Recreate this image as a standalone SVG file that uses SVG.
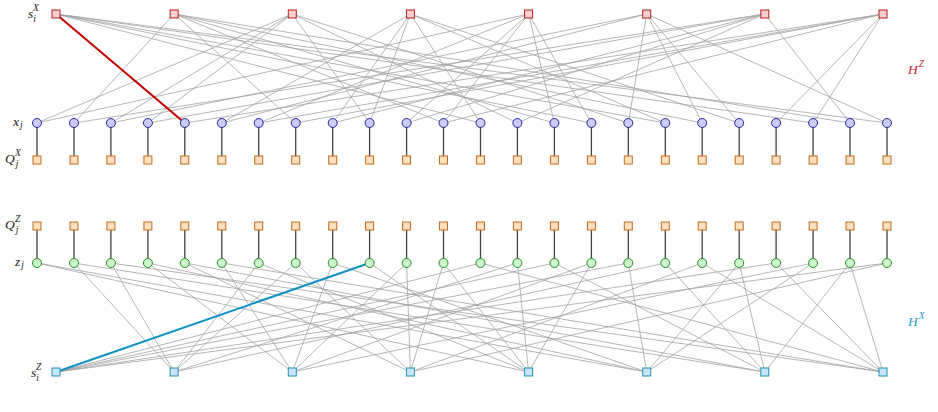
<svg xmlns="http://www.w3.org/2000/svg" width="938" height="412" viewBox="0 0 938 412">
<style>
.e{stroke:#a3a3a3;stroke-width:0.8;fill:none}
.v{stroke:#444;stroke-width:1.3}
.cz{fill:#f9d0d0;stroke:#b81c1c;stroke-width:1}
.cx{fill:#c6e6f5;stroke:#2790b5;stroke-width:1}
.q{fill:#fde0c2;stroke:#c46a1a;stroke-width:1}
.xn{fill:#ccccf8;stroke:#2626a0;stroke-width:1}
.zn{fill:#ccf8cc;stroke:#2a8a2a;stroke-width:1}
.lab{font-family:"Liberation Serif",serif;font-style:italic;font-size:13.5px;fill:#222}
.sm{font-size:9.5px}
</style>
<rect width="938" height="412" fill="#fff"/>
<g id="connectors">
<g id="hz-edges">
<line class="e" x1="56" y1="14" x2="480.5" y2="123"/><line class="e" x1="56" y1="14" x2="591.4" y2="123"/><line class="e" x1="56" y1="14" x2="665.3" y2="123"/><line class="e" x1="56" y1="14" x2="813.1" y2="123"/><line class="e" x1="56" y1="14" x2="887" y2="123"/>
<line class="e" x1="174.1" y1="14" x2="74" y2="123"/><line class="e" x1="174.1" y1="14" x2="295.7" y2="123"/><line class="e" x1="174.1" y1="14" x2="443.5" y2="123"/><line class="e" x1="174.1" y1="14" x2="554.4" y2="123"/><line class="e" x1="174.1" y1="14" x2="702.2" y2="123"/><line class="e" x1="174.1" y1="14" x2="850" y2="123"/>
<line class="e" x1="292.3" y1="14" x2="37" y2="123"/><line class="e" x1="292.3" y1="14" x2="110.9" y2="123"/><line class="e" x1="292.3" y1="14" x2="147.9" y2="123"/><line class="e" x1="292.3" y1="14" x2="369.6" y2="123"/><line class="e" x1="292.3" y1="14" x2="517.4" y2="123"/><line class="e" x1="292.3" y1="14" x2="628.3" y2="123"/>
<line class="e" x1="410.4" y1="14" x2="221.8" y2="123"/><line class="e" x1="410.4" y1="14" x2="332.7" y2="123"/><line class="e" x1="410.4" y1="14" x2="369.6" y2="123"/><line class="e" x1="410.4" y1="14" x2="480.5" y2="123"/><line class="e" x1="410.4" y1="14" x2="665.3" y2="123"/><line class="e" x1="410.4" y1="14" x2="739.2" y2="123"/>
<line class="e" x1="528.6" y1="14" x2="37" y2="123"/><line class="e" x1="528.6" y1="14" x2="258.7" y2="123"/><line class="e" x1="528.6" y1="14" x2="406.6" y2="123"/><line class="e" x1="528.6" y1="14" x2="443.5" y2="123"/><line class="e" x1="528.6" y1="14" x2="554.4" y2="123"/><line class="e" x1="528.6" y1="14" x2="591.4" y2="123"/>
<line class="e" x1="646.7" y1="14" x2="110.9" y2="123"/><line class="e" x1="646.7" y1="14" x2="221.8" y2="123"/><line class="e" x1="646.7" y1="14" x2="628.3" y2="123"/><line class="e" x1="646.7" y1="14" x2="702.2" y2="123"/><line class="e" x1="646.7" y1="14" x2="739.2" y2="123"/><line class="e" x1="646.7" y1="14" x2="887" y2="123"/>
<line class="e" x1="764.8" y1="14" x2="74" y2="123"/><line class="e" x1="764.8" y1="14" x2="147.9" y2="123"/><line class="e" x1="764.8" y1="14" x2="332.7" y2="123"/><line class="e" x1="764.8" y1="14" x2="406.6" y2="123"/><line class="e" x1="764.8" y1="14" x2="517.4" y2="123"/><line class="e" x1="764.8" y1="14" x2="850" y2="123"/>
<line class="e" x1="883" y1="14" x2="184.8" y2="123"/><line class="e" x1="883" y1="14" x2="258.7" y2="123"/><line class="e" x1="883" y1="14" x2="295.7" y2="123"/><line class="e" x1="883" y1="14" x2="443.5" y2="123"/><line class="e" x1="883" y1="14" x2="776.1" y2="123"/><line class="e" x1="883" y1="14" x2="813.1" y2="123"/>
<line x1="56" y1="14" x2="184.8" y2="123" stroke="#c00000" stroke-width="2"/>
</g>
<g id="hx-edges">
<line class="e" x1="56" y1="372" x2="480.5" y2="263"/><line class="e" x1="56" y1="372" x2="554.4" y2="263"/><line class="e" x1="56" y1="372" x2="628.3" y2="263"/><line class="e" x1="56" y1="372" x2="776.1" y2="263"/><line class="e" x1="56" y1="372" x2="887" y2="263"/>
<line class="e" x1="174.1" y1="372" x2="74" y2="263"/><line class="e" x1="174.1" y1="372" x2="110.9" y2="263"/><line class="e" x1="174.1" y1="372" x2="258.7" y2="263"/><line class="e" x1="174.1" y1="372" x2="295.7" y2="263"/><line class="e" x1="174.1" y1="372" x2="517.4" y2="263"/><line class="e" x1="174.1" y1="372" x2="665.3" y2="263"/>
<line class="e" x1="292.3" y1="372" x2="147.9" y2="263"/><line class="e" x1="292.3" y1="372" x2="221.8" y2="263"/><line class="e" x1="292.3" y1="372" x2="332.7" y2="263"/><line class="e" x1="292.3" y1="372" x2="406.6" y2="263"/><line class="e" x1="292.3" y1="372" x2="591.4" y2="263"/><line class="e" x1="292.3" y1="372" x2="813.1" y2="263"/>
<line class="e" x1="410.4" y1="372" x2="184.8" y2="263"/><line class="e" x1="410.4" y1="372" x2="295.7" y2="263"/><line class="e" x1="410.4" y1="372" x2="406.6" y2="263"/><line class="e" x1="410.4" y1="372" x2="443.5" y2="263"/><line class="e" x1="410.4" y1="372" x2="702.2" y2="263"/><line class="e" x1="410.4" y1="372" x2="887" y2="263"/>
<line class="e" x1="528.6" y1="372" x2="37" y2="263"/><line class="e" x1="528.6" y1="372" x2="258.7" y2="263"/><line class="e" x1="528.6" y1="372" x2="369.6" y2="263"/><line class="e" x1="528.6" y1="372" x2="443.5" y2="263"/><line class="e" x1="528.6" y1="372" x2="517.4" y2="263"/><line class="e" x1="528.6" y1="372" x2="591.4" y2="263"/>
<line class="e" x1="646.7" y1="372" x2="37" y2="263"/><line class="e" x1="646.7" y1="372" x2="147.9" y2="263"/><line class="e" x1="646.7" y1="372" x2="332.7" y2="263"/><line class="e" x1="646.7" y1="372" x2="628.3" y2="263"/><line class="e" x1="646.7" y1="372" x2="739.2" y2="263"/><line class="e" x1="646.7" y1="372" x2="813.1" y2="263"/>
<line class="e" x1="764.8" y1="372" x2="74" y2="263"/><line class="e" x1="764.8" y1="372" x2="184.8" y2="263"/><line class="e" x1="764.8" y1="372" x2="554.4" y2="263"/><line class="e" x1="764.8" y1="372" x2="665.3" y2="263"/><line class="e" x1="764.8" y1="372" x2="739.2" y2="263"/><line class="e" x1="764.8" y1="372" x2="850" y2="263"/>
<line class="e" x1="883" y1="372" x2="110.9" y2="263"/><line class="e" x1="883" y1="372" x2="221.8" y2="263"/><line class="e" x1="883" y1="372" x2="480.5" y2="263"/><line class="e" x1="883" y1="372" x2="702.2" y2="263"/><line class="e" x1="883" y1="372" x2="776.1" y2="263"/><line class="e" x1="883" y1="372" x2="850" y2="263"/>
<line x1="56" y1="372" x2="369.6" y2="263" stroke="#0e93c4" stroke-width="2"/>
</g>
<g id="vertical-links">
<path class="v" d="M37 123V160M74 123V160M110.9 123V160M147.9 123V160M184.8 123V160M221.8 123V160M258.7 123V160M295.7 123V160M332.7 123V160M369.6 123V160M406.6 123V160M443.5 123V160M480.5 123V160M517.4 123V160M554.4 123V160M591.4 123V160M628.3 123V160M665.3 123V160M702.2 123V160M739.2 123V160M776.1 123V160M813.1 123V160M850 123V160M887 123V160"/>
<path class="v" d="M37 226V263M74 226V263M110.9 226V263M147.9 226V263M184.8 226V263M221.8 226V263M258.7 226V263M295.7 226V263M332.7 226V263M369.6 226V263M406.6 226V263M443.5 226V263M480.5 226V263M517.4 226V263M554.4 226V263M591.4 226V263M628.3 226V263M665.3 226V263M702.2 226V263M739.2 226V263M776.1 226V263M813.1 226V263M850 226V263M887 226V263"/>
</g>
</g>
<g id="sX-checks">
<rect class="cz" x="52" y="10" width="8" height="8"/><rect class="cz" x="170.1" y="10" width="8" height="8"/><rect class="cz" x="288.3" y="10" width="8" height="8"/><rect class="cz" x="406.4" y="10" width="8" height="8"/><rect class="cz" x="524.6" y="10" width="8" height="8"/><rect class="cz" x="642.7" y="10" width="8" height="8"/><rect class="cz" x="760.8" y="10" width="8" height="8"/><rect class="cz" x="879" y="10" width="8" height="8"/>
</g>
<g id="x-qubits">
<circle class="xn" cx="37" cy="123" r="4.5"/><circle class="xn" cx="74" cy="123" r="4.5"/><circle class="xn" cx="110.9" cy="123" r="4.5"/><circle class="xn" cx="147.9" cy="123" r="4.5"/><circle class="xn" cx="184.8" cy="123" r="4.5"/><circle class="xn" cx="221.8" cy="123" r="4.5"/><circle class="xn" cx="258.7" cy="123" r="4.5"/><circle class="xn" cx="295.7" cy="123" r="4.5"/><circle class="xn" cx="332.7" cy="123" r="4.5"/><circle class="xn" cx="369.6" cy="123" r="4.5"/><circle class="xn" cx="406.6" cy="123" r="4.5"/><circle class="xn" cx="443.5" cy="123" r="4.5"/><circle class="xn" cx="480.5" cy="123" r="4.5"/><circle class="xn" cx="517.4" cy="123" r="4.5"/><circle class="xn" cx="554.4" cy="123" r="4.5"/><circle class="xn" cx="591.4" cy="123" r="4.5"/><circle class="xn" cx="628.3" cy="123" r="4.5"/><circle class="xn" cx="665.3" cy="123" r="4.5"/><circle class="xn" cx="702.2" cy="123" r="4.5"/><circle class="xn" cx="739.2" cy="123" r="4.5"/><circle class="xn" cx="776.1" cy="123" r="4.5"/><circle class="xn" cx="813.1" cy="123" r="4.5"/><circle class="xn" cx="850" cy="123" r="4.5"/><circle class="xn" cx="887" cy="123" r="4.5"/>
</g>
<g id="QX-nodes">
<rect class="q" x="33" y="156" width="8" height="8"/><rect class="q" x="70" y="156" width="8" height="8"/><rect class="q" x="106.9" y="156" width="8" height="8"/><rect class="q" x="143.9" y="156" width="8" height="8"/><rect class="q" x="180.8" y="156" width="8" height="8"/><rect class="q" x="217.8" y="156" width="8" height="8"/><rect class="q" x="254.7" y="156" width="8" height="8"/><rect class="q" x="291.7" y="156" width="8" height="8"/><rect class="q" x="328.7" y="156" width="8" height="8"/><rect class="q" x="365.6" y="156" width="8" height="8"/><rect class="q" x="402.6" y="156" width="8" height="8"/><rect class="q" x="439.5" y="156" width="8" height="8"/><rect class="q" x="476.5" y="156" width="8" height="8"/><rect class="q" x="513.4" y="156" width="8" height="8"/><rect class="q" x="550.4" y="156" width="8" height="8"/><rect class="q" x="587.4" y="156" width="8" height="8"/><rect class="q" x="624.3" y="156" width="8" height="8"/><rect class="q" x="661.3" y="156" width="8" height="8"/><rect class="q" x="698.2" y="156" width="8" height="8"/><rect class="q" x="735.2" y="156" width="8" height="8"/><rect class="q" x="772.1" y="156" width="8" height="8"/><rect class="q" x="809.1" y="156" width="8" height="8"/><rect class="q" x="846" y="156" width="8" height="8"/><rect class="q" x="883" y="156" width="8" height="8"/>
</g>
<g id="QZ-nodes">
<rect class="q" x="33" y="222" width="8" height="8"/><rect class="q" x="70" y="222" width="8" height="8"/><rect class="q" x="106.9" y="222" width="8" height="8"/><rect class="q" x="143.9" y="222" width="8" height="8"/><rect class="q" x="180.8" y="222" width="8" height="8"/><rect class="q" x="217.8" y="222" width="8" height="8"/><rect class="q" x="254.7" y="222" width="8" height="8"/><rect class="q" x="291.7" y="222" width="8" height="8"/><rect class="q" x="328.7" y="222" width="8" height="8"/><rect class="q" x="365.6" y="222" width="8" height="8"/><rect class="q" x="402.6" y="222" width="8" height="8"/><rect class="q" x="439.5" y="222" width="8" height="8"/><rect class="q" x="476.5" y="222" width="8" height="8"/><rect class="q" x="513.4" y="222" width="8" height="8"/><rect class="q" x="550.4" y="222" width="8" height="8"/><rect class="q" x="587.4" y="222" width="8" height="8"/><rect class="q" x="624.3" y="222" width="8" height="8"/><rect class="q" x="661.3" y="222" width="8" height="8"/><rect class="q" x="698.2" y="222" width="8" height="8"/><rect class="q" x="735.2" y="222" width="8" height="8"/><rect class="q" x="772.1" y="222" width="8" height="8"/><rect class="q" x="809.1" y="222" width="8" height="8"/><rect class="q" x="846" y="222" width="8" height="8"/><rect class="q" x="883" y="222" width="8" height="8"/>
</g>
<g id="z-qubits">
<circle class="zn" cx="37" cy="263" r="4.5"/><circle class="zn" cx="74" cy="263" r="4.5"/><circle class="zn" cx="110.9" cy="263" r="4.5"/><circle class="zn" cx="147.9" cy="263" r="4.5"/><circle class="zn" cx="184.8" cy="263" r="4.5"/><circle class="zn" cx="221.8" cy="263" r="4.5"/><circle class="zn" cx="258.7" cy="263" r="4.5"/><circle class="zn" cx="295.7" cy="263" r="4.5"/><circle class="zn" cx="332.7" cy="263" r="4.5"/><circle class="zn" cx="369.6" cy="263" r="4.5"/><circle class="zn" cx="406.6" cy="263" r="4.5"/><circle class="zn" cx="443.5" cy="263" r="4.5"/><circle class="zn" cx="480.5" cy="263" r="4.5"/><circle class="zn" cx="517.4" cy="263" r="4.5"/><circle class="zn" cx="554.4" cy="263" r="4.5"/><circle class="zn" cx="591.4" cy="263" r="4.5"/><circle class="zn" cx="628.3" cy="263" r="4.5"/><circle class="zn" cx="665.3" cy="263" r="4.5"/><circle class="zn" cx="702.2" cy="263" r="4.5"/><circle class="zn" cx="739.2" cy="263" r="4.5"/><circle class="zn" cx="776.1" cy="263" r="4.5"/><circle class="zn" cx="813.1" cy="263" r="4.5"/><circle class="zn" cx="850" cy="263" r="4.5"/><circle class="zn" cx="887" cy="263" r="4.5"/>
</g>
<g id="sZ-checks">
<rect class="cx" x="52" y="368" width="8" height="8"/><rect class="cx" x="170.1" y="368" width="8" height="8"/><rect class="cx" x="288.3" y="368" width="8" height="8"/><rect class="cx" x="406.4" y="368" width="8" height="8"/><rect class="cx" x="524.6" y="368" width="8" height="8"/><rect class="cx" x="642.7" y="368" width="8" height="8"/><rect class="cx" x="760.8" y="368" width="8" height="8"/><rect class="cx" x="879" y="368" width="8" height="8"/>
</g>
<g id="labels">
<text class="lab" x="28" y="18">s<tspan class="sm" dy="4">i</tspan><tspan class="sm" dx="-3" dy="-11">X</tspan></text>
<text class="lab" x="13" y="126">x<tspan class="sm" dx="1" dy="2">j</tspan></text>
<text class="lab" x="5" y="163">Q<tspan class="sm" dx="1" dy="4">j</tspan><tspan class="sm" dx="-3.5" dy="-11">X</tspan></text>
<text class="lab" x="5" y="229">Q<tspan class="sm" dx="1" dy="4">j</tspan><tspan class="sm" dx="-3.5" dy="-11">Z</tspan></text>
<text class="lab" x="15" y="266">z<tspan class="sm" dx="1" dy="2">j</tspan></text>
<text class="lab" x="31" y="377">s<tspan class="sm" dy="4">i</tspan><tspan class="sm" dx="-3" dy="-11">Z</tspan></text>
<text class="lab" x="908" y="74" style="fill:#c0282c">H<tspan class="sm" dx="1" dy="-7">Z</tspan></text>
<text class="lab" x="908" y="326" style="fill:#2a9ec8">H<tspan class="sm" dx="1" dy="-7">X</tspan></text>
</g>
</svg>
